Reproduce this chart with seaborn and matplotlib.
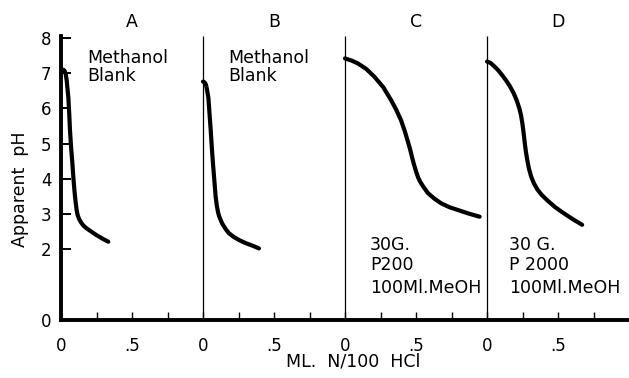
import numpy as np
import pandas as pd
import matplotlib
matplotlib.use("Agg")
import matplotlib.pyplot as plt
import seaborn as sns

# Titration curves: ml of N/100 HCl added vs apparent pH, four runs side by side
panel_names = ["A", "B", "C", "D"]

ml_a = [0.0, 0.008, 0.016, 0.025, 0.033, 0.04, 0.046, 0.052, 0.058, 0.063, 0.071, 0.08,
        0.087, 0.094, 0.102, 0.11, 0.117, 0.126, 0.136, 0.146, 0.16, 0.18, 0.216, 0.245,
        0.27, 0.3, 0.333]
ph_a = [7.05, 7.09, 7.1, 7.07, 6.98, 6.8, 6.55, 6.3, 5.85, 5.4, 4.9, 4.45,
        4.05, 3.7, 3.38, 3.12, 2.98, 2.88, 2.8, 2.74, 2.67, 2.6, 2.5, 2.42,
        2.36, 2.29, 2.22]

ml_b = [0.0, 0.008, 0.015, 0.021, 0.027, 0.032, 0.038, 0.046, 0.054, 0.062, 0.07, 0.08,
        0.089, 0.097, 0.105, 0.114, 0.124, 0.136, 0.15, 0.165, 0.183, 0.215, 0.253,
        0.29, 0.32, 0.36, 0.394]
ph_b = [6.76, 6.75, 6.72, 6.67, 6.56, 6.44, 6.3, 5.85, 5.4, 4.9, 4.45, 3.95,
        3.5, 3.25, 3.07, 2.94, 2.84, 2.73, 2.64, 2.55, 2.46, 2.36, 2.27,
        2.2, 2.15, 2.09, 2.03]

ml_c = [0.0, 0.045, 0.09, 0.15, 0.207, 0.27, 0.324, 0.36, 0.394, 0.42, 0.44, 0.458,
        0.472, 0.485, 0.5, 0.515, 0.53, 0.55, 0.584, 0.63, 0.677, 0.735, 0.795, 0.87,
        0.948]
ph_c = [7.42, 7.36, 7.28, 7.12, 6.9, 6.6, 6.24, 5.97, 5.67, 5.37, 5.1, 4.85,
        4.62, 4.42, 4.22, 4.04, 3.92, 3.79, 3.6, 3.44, 3.31, 3.2, 3.12, 3.02,
        2.93]

ml_d = [0.0, 0.025, 0.05, 0.075, 0.1, 0.13, 0.16, 0.188, 0.21, 0.228, 0.24, 0.25,
        0.258, 0.265, 0.273, 0.283, 0.295, 0.31, 0.33, 0.355, 0.385, 0.423, 0.48,
        0.54, 0.6, 0.67]
ph_d = [7.33, 7.29, 7.2, 7.1, 6.98, 6.82, 6.64, 6.43, 6.22, 6.0, 5.8, 5.55,
        5.3, 5.05, 4.8, 4.55, 4.3, 4.08, 3.88, 3.7, 3.55, 3.4, 3.2,
        3.03, 2.87, 2.7]

panel_ml = [ml_a, ml_b, ml_c, ml_d]
panel_ph = [ph_a, ph_b, ph_c, ph_d]

notes = [["Methanol", "Blank"],
         ["Methanol", "Blank"],
         ["30G.", "P200", "100Ml.MeOH"],
         ["30 G.", "P 2000", "100Ml.MeOH"]]

y_ticks = [0, 2, 3, 4, 5, 6, 7, 8]
x_major = [0, 0.5, 1, 1.5, 2, 2.5, 3, 3.5]
x_major_labels = ["0", ".5", "0", ".5", "0", ".5", "0", ".5"]
x_minor = [0.25, 0.75, 1.25, 1.75, 2.25, 2.75, 3.25, 3.75]

sns.set_theme(style="white", rc={"text.color": "black", "axes.labelcolor": "black",
                                 "xtick.color": "black", "ytick.color": "black"})
plt.rcParams["font.family"] = ["DejaVu Sans"]

fig = plt.figure(figsize=(6.29, 3.78), dpi=100)
ax = fig.add_axes([61 / 629, 58 / 378, 568 / 629, 283.8 / 378])

frames = []
for i, (ml, ph) in enumerate(zip(panel_ml, panel_ph)):
    frames.append(pd.DataFrame({"x": np.asarray(ml) + i, "ph": ph, "panel": panel_names[i]}))
df = pd.concat(frames, ignore_index=True)

for name in panel_names:
    sub = df[df["panel"] == name]
    sns.lineplot(data=sub, x="x", y="ph", sort=False, estimator=None, color="black",
                 lw=3.0, ax=ax, solid_capstyle="round", solid_joinstyle="round")

ax.set_xlim(0, 4.0)
ax.set_ylim(0, 8.05)

# Separators between the four runs
ax.vlines([1, 2, 3], 0, 8.05, color="black", lw=0.9)

for s in ["top", "right"]:
    ax.spines[s].set_visible(False)
for s in ["left", "bottom"]:
    ax.spines[s].set_color("black")
    ax.spines[s].set_linewidth(2.8)

ax.set_yticks(y_ticks)
ax.set_yticklabels([str(t) for t in y_ticks])
ax.set_xticks(x_major)
ax.set_xticklabels(x_major_labels)
ax.set_xticks(x_minor, minor=True)
ax.tick_params(axis="y", direction="in", length=7, width=1.4, colors="black",
               labelsize=12, pad=7, left=True)
ax.tick_params(axis="x", which="both", direction="in", length=6, width=1.0,
               colors="black", labelsize=12, pad=12, bottom=True)
ax.set_xlabel("")
ax.set_ylabel("")

for i, name in enumerate(panel_names):
    ax.text(i + 0.5, 8.45, name, ha="center", va="center", fontsize=12.5,
            color="black", clip_on=False)

note_x = [0.183, 0.176, 0.175, 0.157]
note_y = [[7.43, 6.92], [7.43, 6.92], [2.13, 1.56, 0.92], [2.13, 1.56, 0.92]]
for i, lines in enumerate(notes):
    for line, yy in zip(lines, note_y[i]):
        ax.text(i + note_x[i], yy, line, ha="left", va="center", fontsize=12.5,
                color="black")

fig.text(353 / 629, 1 - 362 / 378, "ML.  N/100  HCl", ha="center", va="center",
         fontsize=12.5, color="black")
fig.text(20 / 629, 1 - 189 / 378, "Apparent  pH", ha="center", va="center",
         rotation=90, fontsize=12.5, color="black")

fig.savefig("out.png", dpi=100)
